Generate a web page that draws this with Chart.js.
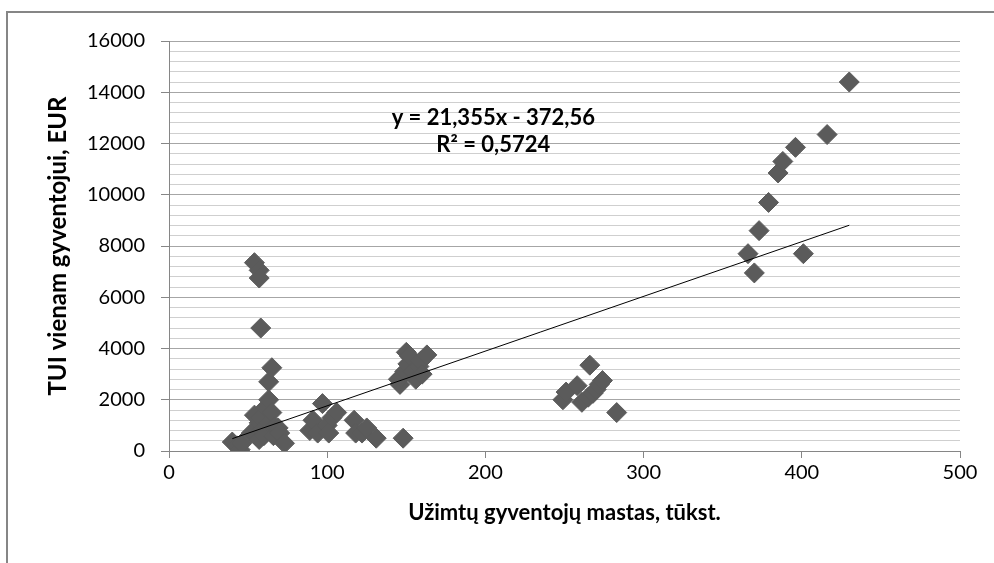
<!DOCTYPE html>
<html>
<head>
<meta charset="utf-8">
<script src="https://cdn.jsdelivr.net/npm/chart.js@4.4.1/dist/chart.umd.min.js"></script>
<style>
  html, body { margin: 0; padding: 0; background: #fff; overflow: hidden; }
  #wrap { position: relative; width: 994px; height: 563px; }
  #frame { position: absolute; left: 6px; top: 11px; width: 1100px; height: 700px;
           border-left: 2px solid #868686; border-top: 2px solid #868686; }
  canvas { position: absolute; left: 0; top: 0; }
</style>
</head>
<body>
<div id="wrap">
  <div id="frame"></div>
  <canvas id="myChart" width="994" height="563"></canvas>
</div>
<script>
// užimtų gyventojų mastas, tūkst.
const gyventojai = [
  40, 43, 45, 46, 52, 54, 55, 57, 57, 58, 59, 60, 61, 63, 63, 63, 65, 65, 66, 67, 69, 70, 73,
  58, 54, 57, 57,
  89, 91, 94, 97, 100, 101, 103, 106, 117, 118, 122, 125, 131,
  148, 145, 146, 147, 149, 150, 151, 152, 154, 156, 158, 159, 160, 163,
  249, 251, 258, 261, 265, 266, 268, 270, 272, 274, 283,
  366, 370, 373, 379, 385, 388, 396, 401, 416, 430
];
// TUI vienam gyventojui, EUR
const tui = [
  350, 200, 50, 300, 700, 1400, 600, 1100, 450, 1300, 800, 600, 1700, 2000, 1100, 2700, 3250, 1500, 600, 950, 900, 700, 300,
  4800, 7350, 7050, 6750,
  800, 1200, 700, 1850, 1000, 700, 1300, 1500, 1200, 700, 700, 900, 500,
  500, 2800, 2600, 2900, 3100, 3850, 3400, 3700, 3100, 2800, 3300, 3500, 3000, 3750,
  2000, 2300, 2550, 1900, 2100, 3350, 2250, 2400, 2600, 2750, 1500,
  7700, 6950, 8600, 9700, 10850, 11300, 11850, 7700, 12350, 14400
];
// tiesinė tendencija
const slope = 21.355;
const intercept = -372.56;
const lygtis = ['y = 21,355x - 372,56', 'R² = 0,5724'];

const xMin = Math.min(...gyventojai);
const xMax = Math.max(...gyventojai);
const trend = [xMin, xMax].map(x => ({ x: x, y: slope * x + intercept }));
const points = gyventojai.map((x, i) => ({ x: x, y: tui[i] }));

const FONT = 'Lato, "Open Sans", sans-serif';

const equationPlugin = {
  id: 'equation',
  afterDatasetsDraw(chart) {
    const ctx = chart.ctx;
    const xs = chart.scales.x, ys = chart.scales.y;
    const cx = xs.getPixelForValue(205);
    const cy = ys.getPixelForValue(13000);
    ctx.save();
    ctx.fillStyle = '#000';
    ctx.font = 'bold 22px ' + FONT;
    ctx.textAlign = 'center';
    ctx.textBaseline = 'middle';
    ctx.fillText(lygtis[0], cx, cy);
    ctx.fillText(lygtis[1], cx, cy + 27);
    ctx.restore();
  }
};

const ctx = document.getElementById('myChart').getContext('2d');
const myChart = new Chart(ctx, {
  type: 'scatter',
  data: {
    datasets: [{
      type: 'line',
      data: trend,
      borderColor: '#000',
      borderWidth: 1,
      pointRadius: 0,
      fill: false,
      order: 0
    }, {
      data: points,
      pointStyle: 'rectRot',
      pointRadius: 10,
      backgroundColor: '#5b5b5b',
      borderColor: '#5b5b5b',
      borderWidth: 1,
      order: 1
    }]
  },
  plugins: [equationPlugin],
  options: {
    responsive: false,
    animation: false,
    layout: { padding: { left: 0, top: 41, right: 34, bottom: 0 } },
    plugins: { legend: { display: false }, tooltip: { enabled: false } },
    scales: {
      x: {
        type: 'linear',
        min: 0,
        max: 500,
        afterFit(scale) { scale.height = 112; },
        ticks: { stepSize: 100, color: '#000', padding: 3, font: { family: FONT, size: 20 } },
        grid: { drawOnChartArea: false, tickLength: 7, color: '#868686' },
        border: { color: '#868686' },
        title: {
          display: true,
          text: 'Užimtų gyventojų mastas, tūkst.',
          color: '#000',
          font: { family: FONT, size: 22, weight: 'bold' },
          padding: { top: 0, bottom: 37 }
        }
      },
      y: {
        min: 0,
        max: 16000,
        afterFit(scale) { scale.width = 169; },
        ticks: {
          stepSize: 400,
          autoSkip: false,
          color: '#000',
          padding: 16,
          font: { family: FONT, size: 20 },
          callback: v => (v % 2000 === 0 ? v : '')
        },
        grid: {
          tickLength: 8,
          color: c => (c.tick && c.tick.value % 2000 === 0 ? '#a6a6a6' : '#cfcfcf'),
          tickColor: c => (c.tick && c.tick.value % 2000 === 0 ? '#868686' : 'rgba(0,0,0,0)')
        },
        border: { color: '#868686' },
        title: {
          display: true,
          text: 'TUI vienam gyventojui, EUR',
          color: '#000',
          font: { family: FONT, size: 24, weight: 'bold' },
          padding: { top: 44, bottom: 0 }
        }
      }
    }
  }
});
</script>
</body>
</html>
